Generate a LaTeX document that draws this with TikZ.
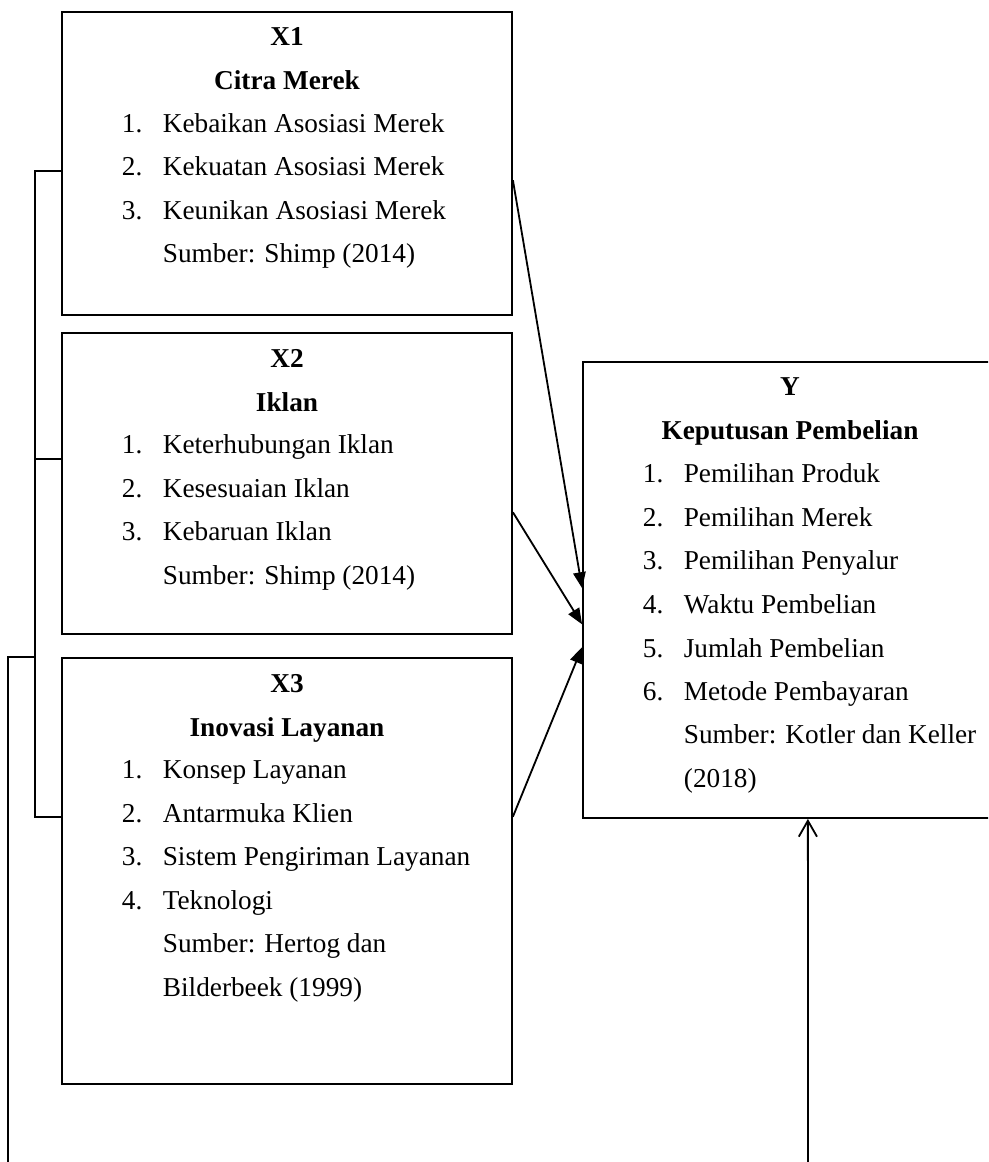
\documentclass[tikz,border=0pt]{standalone}
\usepackage{fontspec}
\setmainfont{Liberation Serif}
\usetikzlibrary{arrows.meta,fit,calc}

\tikzset{
  box/.style={draw, line width=0.8pt, inner sep=0pt},
  ttl/.style={anchor=base, inner sep=0pt, font=\fontsize{12}{14}\selectfont\bfseries},
  item/.style={anchor=base west, inner sep=0pt, font=\fontsize{12}{14}\selectfont},
  arr/.style={line width=0.8pt, -{Triangle[length=7pt,width=5.5pt]}},
  openarr/.style={line width=0.8pt, -{Straight Barb[length=7pt,width=8pt]}}
}

\begin{document}
\begin{tikzpicture}[x=0.44pt, y=-0.44pt, line width=0.8pt]
\useasboundingbox (0,0) rectangle (988,1162);
\clip (0,0) rectangle (988,1162);

% boxes
\node[box, fit={(62,12) (512,315)}] (x1) {};
\node[box, fit={(62,333) (512,634)}] (x2) {};
\node[box, fit={(62,658) (512,1084)}] (x3) {};
\node[box, fit={(583,362) (997,818)}] (y) {};

% X1
\node[ttl] (x1a) at (287,46) {X1};
\node[ttl] (x1b) at (287,90) {Citra Merek};
\foreach \t [count=\i] in {Kebaikan Asosiasi Merek, Kekuatan Asosiasi Merek, Keunikan Asosiasi Merek}
  \node[item] (x1i\i) at (121,89+43.5*\i) {\makebox[18pt][l]{\i.}\t};
\node[item] (x1s) at (162,263) {Sumber: Shimp (2014)};

% X2
\node[ttl] (x2a) at (287,367) {X2};
\node[ttl] (x2b) at (287,411) {Iklan};
\foreach \t [count=\i] in {Keterhubungan Iklan, Kesesuaian Iklan, Kebaruan Iklan}
  \node[item] (x2i\i) at (121,410+43.5*\i) {\makebox[18pt][l]{\i.}\t};
\node[item] (x2s) at (162,584) {Sumber: Shimp (2014)};

% X3
\node[ttl] (x3a) at (287,692) {X3};
\node[ttl] (x3b) at (287,736) {Inovasi Layanan};
\foreach \t [count=\i] in {Konsep Layanan, Antarmuka Klien, Sistem Pengiriman Layanan, Teknologi}
  \node[item] (x3i\i) at (121,735+43.5*\i) {\makebox[18pt][l]{\i.}\t};
\node[item] (x3s) at (162,952.5) {Sumber: Hertog dan};
\node[item] (x3t) at (162,996) {Bilderbeek (1999)};

% Y
\node[ttl] (ya) at (790,395) {Y};
\node[ttl] (yb) at (790,439) {Keputusan Pembelian};
\foreach \t [count=\i] in {Pemilihan Produk, Pemilihan Merek, Pemilihan Penyalur, Waktu Pembelian, Jumlah Pembelian, Metode Pembayaran}
  \node[item] (yi\i) at (642,439+43.6*\i) {\makebox[18pt][l]{\i.}\t};
\node[item] (ys) at (683,743.5) {Sumber: Kotler dan Keller};
\node[item] (yt) at (683,787) {(2018)};

% arrows into Y
\draw[arr] ($(x1.north east)!0.555!(x1.south east)$) -- ($(y.north west)!0.496!(y.south west)$);
\draw[arr] ($(x2.north east)!0.595!(x2.south east)$) -- ($(y.north west)!0.575!(y.south west)$);
\draw[arr] ($(x3.north east)!0.373!(x3.south east)$) -- ($(y.north west)!0.625!(y.south west)$);

% left bracket
\coordinate (bus) at (35,0);
\coordinate (lft) at (8,1162);
\coordinate (bot) at (808,1162);
\coordinate (s1) at ($(x1.north west)!0.525!(x1.south west)$);
\coordinate (s2) at ($(x2.north west)!0.42!(x2.south west)$);
\coordinate (s3) at ($(x3.north west)!0.373!(x3.south west)$);
\draw (s1) -- (s1 -| bus) -- (s3 -| bus) -- (s3);
\draw (s2) -- (s2 -| bus);
\draw (x3.north west -| bus) -| (lft);

% bottom arrow
\draw[openarr] (bot) -- ($(y.south west)!0.543!(y.south east)$);
\end{tikzpicture}
\end{document}
